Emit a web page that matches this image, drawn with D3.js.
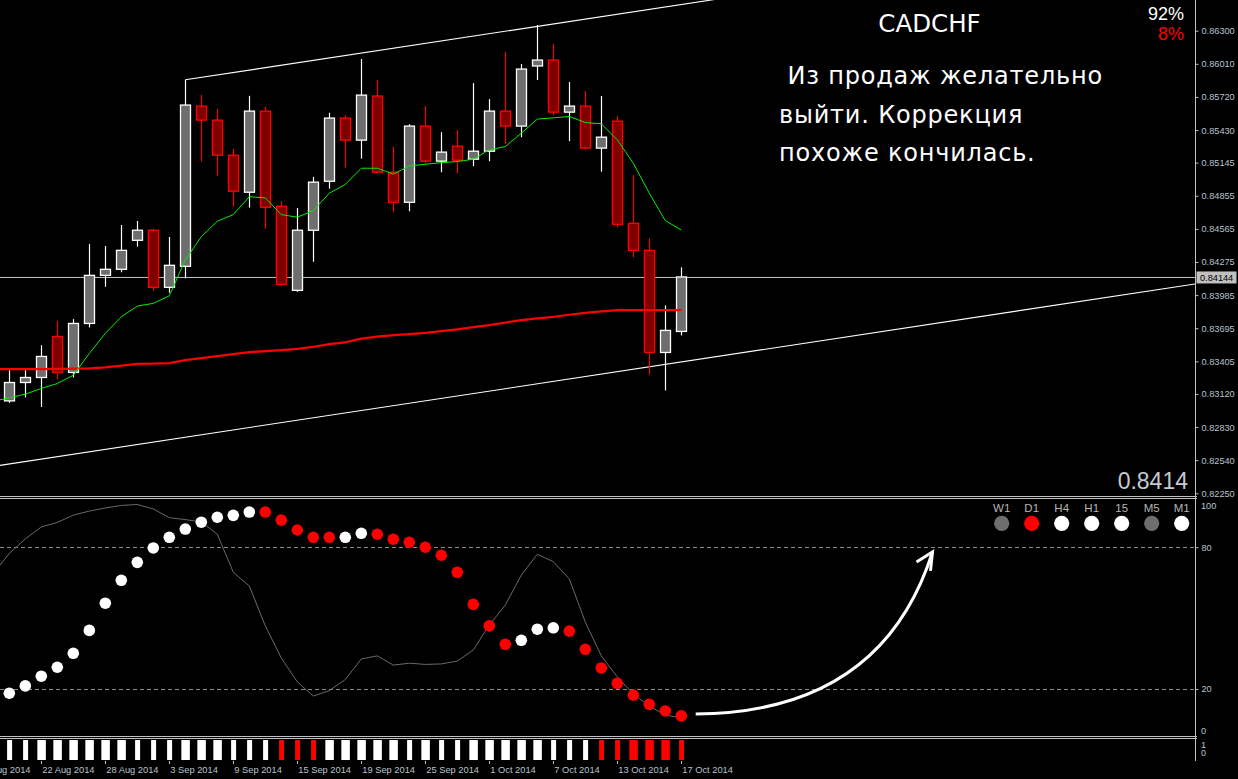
<!DOCTYPE html>
<html><head><meta charset="utf-8">
<script src="https://cdn.jsdelivr.net/npm/d3@7"></script>
<style>
html,body{margin:0;padding:0;background:#000;overflow:hidden}
svg{display:block}
</style></head><body>
<svg id="c" width="1238" height="779"></svg>
<script>
// ---------------- DATA ----------------
const dates = ["18 Aug 2014","19 Aug 2014","20 Aug 2014","21 Aug 2014","22 Aug 2014","25 Aug 2014","26 Aug 2014","27 Aug 2014","28 Aug 2014","29 Aug 2014","1 Sep 2014","2 Sep 2014","3 Sep 2014","4 Sep 2014","5 Sep 2014","8 Sep 2014","9 Sep 2014","10 Sep 2014","11 Sep 2014","12 Sep 2014","15 Sep 2014","16 Sep 2014","17 Sep 2014","18 Sep 2014","19 Sep 2014","22 Sep 2014","23 Sep 2014","24 Sep 2014","25 Sep 2014","26 Sep 2014","29 Sep 2014","30 Sep 2014","1 Oct 2014","2 Oct 2014","3 Oct 2014","6 Oct 2014","7 Oct 2014","8 Oct 2014","9 Oct 2014","10 Oct 2014","13 Oct 2014","14 Oct 2014","15 Oct 2014","16 Oct 2014","17 Oct 2014"];
const dateLabels = ["18 Aug 2014","22 Aug 2014","28 Aug 2014","3 Sep 2014","9 Sep 2014","15 Sep 2014","19 Sep 2014","25 Sep 2014","1 Oct 2014","7 Oct 2014","13 Oct 2014","17 Oct 2014"];

const open  = [null,null,0.83059,0.83220,0.83264,0.83623,0.83308,0.83737,0.84158,0.84211,0.84465,0.84553,0.84053,0.84237,0.85640,0.85517,0.85210,0.84886,0.85596,0.84763,0.84027,0.84553,0.84982,0.85535,0.85342,0.85728,0.85061,0.84798,0.85465,0.85158,0.85289,0.85175,0.85245,0.85596,0.85465,0.85991,0.86043,0.85587,0.85640,0.85272,0.85508,0.84614,0.84377,0.83483,0.83667];
const high  = [null,null,0.83328,0.83328,0.83547,0.83758,0.83775,0.84433,0.84415,0.84599,0.84634,0.84564,0.84494,0.85870,0.85739,0.85616,0.85265,0.85730,0.85634,0.84807,0.84748,0.85020,0.85581,0.85561,0.86052,0.85870,0.85283,0.85482,0.85640,0.85412,0.85429,0.85841,0.85701,0.86113,0.86008,0.86350,0.86183,0.85850,0.85771,0.85728,0.85552,0.85035,0.84483,0.83895,0.84228];
const low   = [null,null,0.83041,0.83089,0.83006,0.83246,0.83264,0.83702,0.84058,0.84185,0.84409,0.84023,0.84006,0.84132,0.85154,0.85031,0.84760,0.84751,0.84567,0.84067,0.84014,0.84277,0.84917,0.85102,0.85180,0.85055,0.84711,0.84719,0.85140,0.85061,0.85052,0.85114,0.85158,0.85307,0.85368,0.85868,0.85561,0.85333,0.85259,0.85066,0.84579,0.84316,0.83290,0.83150,0.83632];
const close = [null,null,0.83220,0.83264,0.83448,0.83308,0.83737,0.84158,0.84211,0.84377,0.84553,0.84053,0.84246,0.85649,0.85517,0.85210,0.84895,0.85596,0.84754,0.84079,0.84553,0.84974,0.85535,0.85342,0.85736,0.85061,0.84798,0.85465,0.85158,0.85237,0.85166,0.85245,0.85596,0.85465,0.85964,0.86043,0.85587,0.85640,0.85272,0.85368,0.84605,0.84377,0.83483,0.83676,0.84144];

const maFast = [null,0.83056,0.83086,0.83118,0.83168,0.83211,0.83284,0.83474,0.83650,0.83795,0.83889,0.83913,0.83979,0.84292,0.84497,0.84632,0.84690,0.84847,0.84836,0.84690,0.84667,0.84725,0.84877,0.84954,0.85096,0.85096,0.85044,0.85116,0.85131,0.85145,0.85154,0.85175,0.85257,0.85286,0.85403,0.85526,0.85537,0.85549,0.85496,0.85485,0.85344,0.85140,0.84877,0.84637,0.84555];
const maSlow = [null,0.83337,0.83337,0.83337,0.83337,0.83339,0.83341,0.83343,0.83352,0.83367,0.83383,0.83385,0.83389,0.83416,0.83433,0.83451,0.83468,0.83486,0.83495,0.83503,0.83515,0.83532,0.83556,0.83571,0.83604,0.83622,0.83635,0.83644,0.83655,0.83670,0.83685,0.83705,0.83723,0.83744,0.83766,0.83781,0.83795,0.83813,0.83830,0.83843,0.83854,0.83854,0.83854,0.83854,0.83854];

const bidPrice = 0.84144;
const bidText = "0.8414";
// channel anchors: [date index, price]
const channelBase  = [[2,0.82507],[44,0.83400]];
const channelUpper = [13,0.85870];

const priceTicks = [0.86300,0.86010,0.85720,0.85430,0.85145,0.84855,0.84565,0.84275,0.83985,0.83695,0.83405,0.83120,0.82830,0.82540,0.82250];

// oscillator
const oscLine = [null,68.8,77.4,83.5,88.6,90.5,93.6,95.3,96.6,97.7,98.1,96.2,92.5,91.7,90.7,85.5,69.4,63.6,46.7,33.1,23.0,17.0,19.3,24.0,32.7,34.0,30.1,30.9,30.4,30.6,31.8,36.5,47.1,55.5,68.2,77.0,73.9,66.6,48.3,34.0,25.1,17.9,12.8,8.9,7.8];
const oscDots = [null,null,18.2,21.3,25.4,29.2,35.1,44.8,56.3,66.0,73.6,79.7,84.2,87.7,90.6,92.7,93.5,94.9,94.9,91.5,87.3,84.2,84.2,84.2,85.9,85.5,83.4,82.1,80.0,76.6,69.4,55.8,46.7,38.9,40.6,45.3,45.9,44.5,36.8,28.9,22.4,17.4,13.5,10.7,8.6];
const oscDotUp = [null,null,1,1,1,1,1,1,1,1,1,1,1,1,1,1,1,1,0,0,0,0,0,1,1,0,0,0,0,0,0,0,0,0,1,1,1,0,0,0,0,0,0,0,0];
const oscLevels = [80,20];
// arrow annotation in (date index, osc value)
const arrowPts = [[44.9,9.4],[56.5,10],[59.7,78]];

// bottom histogram
const histUp   = [null,null,1,1,1,1,1,1,1,1,1,1,1,1,1,1,1,1,1,0,0,0,1,1,1,1,1,1,1,1,1,1,1,1,1,1,1,1,1,0,0,0,0,0,0];
const histWide = [null,null,0,0,1,1,1,1,1,1,0,0,0,1,1,1,0,0,0,0,0,0,1,1,1,1,1,0,1,0,0,1,1,1,1,1,0,0,0,0,0,1,1,1,0];

// timeframe states
const tfLabels = ["W1","D1","H4","H1","15","M5","M1"];
const tfState  = [0,-1,1,1,1,0,1];

const symbol = "CADCHF";
const pctUp = "92%", pctDown = "8%";
const comment = [" Из продаж желательно","выйти. Коррекция","похоже кончилась."];

// ---------------- LAYOUT ----------------
const W = 1238, H = 779, plotR = 1195;
const mainTop = 0, mainBot = 496, oscTop = 499, oscBot = 736, histTop = 739, histBot = 761;
const axisCol = "#b9c3cd", frameCol = "#c0c0c0";
const svg = d3.select("#c");
svg.append("rect").attr("width",W).attr("height",H).attr("fill","#000");

const x = d3.scaleLinear().domain([0, dates.length-1]).range([-22.7, 681.3]);
const y = d3.scaleLinear().domain([0.8225, 0.8630]).range([493.3, 30.7]);
const yo = d3.scaleLinear().domain([0,100]).range([736.2, 500.0]);
const idx = d3.range(dates.length);

const defs = svg.append("defs");
defs.append("clipPath").attr("id","cm").append("rect").attr("x",0).attr("y",mainTop).attr("width",plotR).attr("height",mainBot-mainTop);
defs.append("clipPath").attr("id","co").append("rect").attr("x",0).attr("y",oscTop).attr("width",plotR).attr("height",oscBot-oscTop);

// ---------- main panel ----------
const gm = svg.append("g").attr("clip-path","url(#cm)");
gm.append("line").attr("x1",0).attr("x2",plotR).attr("y1",y(bidPrice)+0.5).attr("y2",y(bidPrice)+0.5)
  .attr("stroke","#c4c4c4").attr("stroke-width",1);
// channel
const slope = (channelBase[1][1]-channelBase[0][1])/(channelBase[1][0]-channelBase[0][0]);
const xEnd = x.invert(plotR+5), xStart = x.invert(-5);
const baseAt = i => channelBase[0][1] + slope*(i-channelBase[0][0]);
gm.append("line").attr("x1",x(xStart)).attr("y1",y(baseAt(xStart))).attr("x2",x(xEnd)).attr("y2",y(baseAt(xEnd)))
  .attr("stroke","#fff").attr("stroke-width",1.1);
const off = channelUpper[1]-baseAt(channelUpper[0]);
gm.append("line").attr("x1",x(channelUpper[0])).attr("y1",y(channelUpper[1])).attr("x2",x(xEnd)).attr("y2",y(baseAt(xEnd)+off))
  .attr("stroke","#fff").attr("stroke-width",1.1);

// candles
const cIdx = idx.filter(i => open[i] !== null);
gm.selectAll("line.wick").data(cIdx).join("line").attr("class","wick")
  .attr("x1",i=>Math.round(x(i))+0.5).attr("x2",i=>Math.round(x(i))+0.5)
  .attr("y1",i=>y(high[i])).attr("y2",i=>y(low[i]))
  .attr("stroke",i=>close[i]>=open[i]?"#fff":"#ff0000").attr("stroke-width",1.2);
gm.selectAll("rect.body").data(cIdx).join("rect").attr("class","body")
  .attr("x",i=>Math.round(x(i))-4.5).attr("width",10)
  .attr("y",i=>y(Math.max(open[i],close[i])))
  .attr("height",i=>Math.max(1,Math.abs(y(open[i])-y(close[i]))))
  .attr("fill",i=>close[i]>=open[i]?"#6e6e6e":"#800000")
  .attr("stroke",i=>close[i]>=open[i]?"#fff":"#ff0000").attr("stroke-width",1.3);

// moving averages
const lineGen = arr => d3.line().defined(i=>arr[i]!==null).x(i=>x(i)).y(i=>y(arr[i]))(idx);
gm.append("path").attr("d",lineGen(maSlow)).attr("fill","none").attr("stroke","#ff0000").attr("stroke-width",2.2);
gm.append("path").attr("d",lineGen(maFast)).attr("fill","none").attr("stroke","#00f000").attr("stroke-width",1);

// texts
const sans = "'Liberation Sans', Arial, sans-serif";
const txtFont = "'DejaVu Sans', 'Noto Sans', sans-serif";
svg.append("text").attr("x",929.5).attr("y",32).attr("text-anchor","middle").attr("fill","#fff")
  .attr("font-family",txtFont).attr("font-size",24.5).text(symbol);
svg.append("text").attr("x",1184).attr("y",20).attr("text-anchor","end").attr("fill","#fff")
  .attr("font-family",sans).attr("font-size",18).text(pctUp);
svg.append("text").attr("x",1184).attr("y",40).attr("text-anchor","end").attr("fill","#ff0000")
  .attr("font-family",sans).attr("font-size",18).text(pctDown);
svg.append("g").selectAll("text").data(comment).join("text")
  .attr("x",779).attr("y",(d,i)=>84+i*38.5).attr("fill","#fff").attr("xml:space","preserve")
  .style("white-space","pre").attr("letter-spacing",0.8)
  .attr("font-family",txtFont).attr("font-size",24).text(d=>d);
svg.append("text").attr("x",1188).attr("y",489).attr("text-anchor","end").attr("fill","#c3cad1")
  .attr("font-family",sans).attr("font-size",23).text(bidText);

// ---------- frames ----------
const fr = svg.append("g").attr("stroke",frameCol).attr("stroke-width",1);
[496.5,498.5,736.5,738.5].forEach(v=>fr.append("line").attr("x1",0).attr("x2",plotR+2).attr("y1",v).attr("y2",v));
fr.append("line").attr("x1",plotR+0.5).attr("x2",plotR+0.5).attr("y1",0).attr("y2",histBot);

// price axis
const ax = svg.append("g").attr("transform",`translate(${plotR+0.5},0)`)
  .call(d3.axisRight(y).tickValues(priceTicks).tickFormat(d3.format(".5f")).tickSize(3).tickPadding(3));
ax.select(".domain").remove();
ax.selectAll("line").attr("stroke",frameCol);
ax.selectAll("text").attr("fill",axisCol).attr("font-family",sans).attr("font-size",9.2);
// bid label
const bl = svg.append("g");
bl.append("rect").attr("x",plotR+1.5).attr("y",y(bidPrice)-5.5).attr("width",40).attr("height",12).attr("fill","#c0c0c0");
bl.append("text").attr("x",plotR+5).attr("y",y(bidPrice)+4).attr("fill","#000")
  .attr("font-family",sans).attr("font-size",9.2).text(d3.format(".5f")(bidPrice));

// ---------- oscillator panel ----------
const go = svg.append("g").attr("clip-path","url(#co)");
go.selectAll("line.lvl").data(oscLevels).join("line").attr("class","lvl")
  .attr("x1",0).attr("x2",plotR).attr("y1",d=>Math.round(yo(d))+0.5).attr("y2",d=>Math.round(yo(d))+0.5)
  .attr("stroke","#8a8a8a").attr("stroke-dasharray","4,3").attr("stroke-width",1);
go.append("path").attr("d",d3.line().defined(i=>oscLine[i]!==null).x(i=>x(i)).y(i=>yo(oscLine[i]))(idx))
  .attr("fill","none").attr("stroke","#6a6a6a").attr("stroke-width",1);
go.selectAll("circle.dot").data(idx.filter(i=>oscDots[i]!==null)).join("circle").attr("class","dot")
  .attr("cx",i=>x(i)).attr("cy",i=>yo(oscDots[i])).attr("r",5.8)
  .attr("fill",i=>oscDotUp[i]?"#fff":"#ff0000");
// arrow
const ap = d3.path();
ap.moveTo(x(arrowPts[0][0]),yo(arrowPts[0][1]));
ap.quadraticCurveTo(x(arrowPts[1][0]),yo(arrowPts[1][1]),x(arrowPts[2][0]),yo(arrowPts[2][1]));
go.append("path").attr("d",ap.toString()).attr("fill","none").attr("stroke","#fff").attr("stroke-width",3);
const tipX = x(arrowPts[2][0]), tipY = yo(arrowPts[2][1]);
go.append("path").attr("d",`M${tipX-16},${tipY+10}L${tipX},${tipY}L${tipX-2},${tipY+19}`)
  .attr("fill","none").attr("stroke","#fff").attr("stroke-width",3).attr("stroke-linejoin","miter");

// timeframe indicators
const tf = d3.scalePoint().domain(tfLabels).range([1001.7,1181.7]);
svg.append("g").selectAll("text").data(tfLabels).join("text")
  .attr("x",d=>tf(d)).attr("y",512).attr("text-anchor","middle").attr("fill","#b4b4b4")
  .attr("font-family",sans).attr("font-size",11.5).text(d=>d);
svg.append("g").selectAll("circle").data(tfLabels).join("circle")
  .attr("cx",d=>tf(d)).attr("cy",523.3).attr("r",7.6)
  .attr("fill",(d,i)=>tfState[i]===1?"#fff":tfState[i]===-1?"#ff0000":"#6e6e6e");

// osc axis
const oa = svg.append("g").attr("transform",`translate(${plotR+0.5},0)`)
  .call(d3.axisRight(yo).tickValues(oscLevels).tickSize(3).tickPadding(3));
oa.select(".domain").remove();
oa.selectAll("line").attr("stroke",frameCol);
oa.selectAll("text").attr("fill",axisCol).attr("font-family",sans).attr("font-size",9.2);
svg.append("text").attr("x",plotR+6).attr("y",yo(100)+9).attr("fill",axisCol).attr("font-family",sans).attr("font-size",9.2).text("100");
svg.append("text").attr("x",plotR+6).attr("y",yo(0)-2).attr("fill",axisCol).attr("font-family",sans).attr("font-size",9.2).text("0");

// ---------- histogram panel ----------
const yh = d3.scaleLinear().domain([0,1]).range([histBot-1, histTop+1]);
const hw = d3.scaleOrdinal().domain([0,1]).range([5,8.5]);
svg.append("g").selectAll("rect").data(idx.filter(i=>histUp[i]!==null)).join("rect")
  .attr("x",i=>x(i)-hw(histWide[i])/2+0.3).attr("width",i=>hw(histWide[i]))
  .attr("y",yh(1)).attr("height",yh(0)-yh(1))
  .attr("fill",i=>histUp[i]?"#fff":"#ff0000");
svg.append("text").attr("x",plotR+6).attr("y",748).attr("fill",axisCol).attr("font-family",sans).attr("font-size",9).text("1");
svg.append("text").attr("x",plotR+6).attr("y",756).attr("fill",axisCol).attr("font-family",sans).attr("font-size",9).text("0");

// date axis
const dl = svg.append("g");
const labIdx = dateLabels.map(d=>dates.indexOf(d));
dl.selectAll("line").data(labIdx).join("line")
  .attr("x1",i=>Math.round(x(i))+0.5).attr("x2",i=>Math.round(x(i))+0.5).attr("y1",histBot).attr("y2",histBot+3)
  .attr("stroke",frameCol);
dl.selectAll("text").data(labIdx).join("text")
  .attr("x",i=>x(i)+1).attr("y",773).attr("fill",axisCol).attr("font-family",sans).attr("font-size",9.3)
  .text(i=>dates[i]);
</script>
</body></html>
